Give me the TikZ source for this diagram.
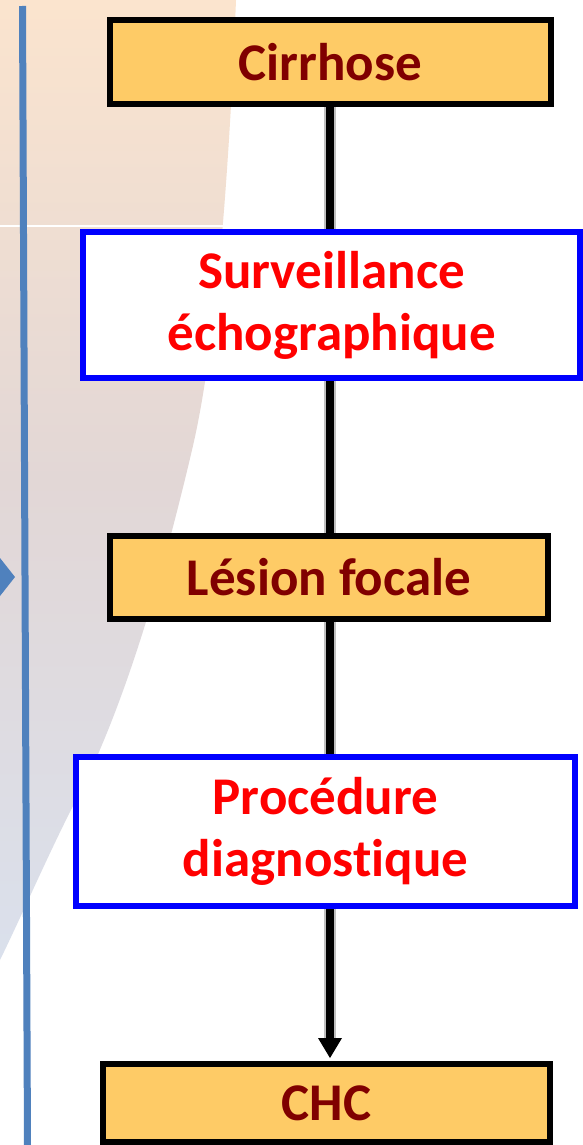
\documentclass[tikz,border=0pt]{standalone}
\usepackage{fontspec}
\setmainfont[Ligatures={NoCommon}]{Carlito}
\usetikzlibrary{arrows.meta}
\pgfdeclarelayer{bg}
\pgfdeclarelayer{lines}
\pgfsetlayers{bg,lines,main}
\definecolor{boxorange}{RGB}{254,203,102}
\definecolor{darkred}{RGB}{128,0,0}
\definecolor{pureblue}{RGB}{0,0,255}
\definecolor{purered}{RGB}{255,0,0}
\definecolor{officeblue}{RGB}{79,129,189}
\definecolor{bgtop}{RGB}{251,228,206}
\definecolor{bgmid}{RGB}{226,215,214}
\definecolor{bgbot}{RGB}{218,224,236}
\begin{document}
\begin{tikzpicture}[x=1pt,y=-1pt,
  orangebox/.style={draw=black,line width=6pt,fill=boxorange,text=darkred,
    font=\fontsize{53}{62}\selectfont\bfseries,inner sep=0pt,align=center},
  bluebox/.style={draw=pureblue,line width=6pt,fill=white,text=purered,
    font=\fontsize{53}{62}\selectfont\bfseries,inner sep=0pt,align=center},
  conn/.style={line width=8pt,draw=black},
  connshadow/.style={line width=12pt,draw=black,opacity=0.25}]
\useasboundingbox (0,0) rectangle (583,1145);

% boxes
\node[orangebox,minimum width=441pt,minimum height=84pt] (cir) at (330.5,62) {Cirrhose};
\node[bluebox,minimum width=497pt,minimum height=146pt] (sur) at (331.5,305) {Surveillance\\échographique};
\node[orangebox,minimum width=438pt,minimum height=83pt] (les) at (329,577.5) {Lésion focale};
\node[bluebox,minimum width=499pt,minimum height=149pt] (pro) at (325.5,831.5) {Procédure\\diagnostique};
\node[orangebox,minimum width=447pt,minimum height=78pt] (chc) at (326.5,1103) {CHC};

\coordinate (ax) at (330,0);

\begin{pgfonlayer}{bg}
  \fill[white] (0,0) rectangle (583,1145);
  \shade[top color=bgtop, bottom color=bgbot, middle color=bgmid]
    (0,0) -- (236,0) .. controls (230,150) and (218,340) .. (192,450)
    .. controls (165,565) and (125,710) .. (72,808)
    .. controls (48,855) and (22,915) .. (0,960) -- cycle;
  \draw[white,line width=2pt] (0,226) -- (226,226);
  \draw[officeblue,line width=7pt] (22.5,6) -- (27.5,1145);
  \fill[officeblue] (0,558) -- (15,577) -- (0,596) -- cycle;
\end{pgfonlayer}

\begin{pgfonlayer}{lines}
  \draw[connshadow] (cir.south -| ax) -- (sur.north -| ax);
  \draw[conn] (cir.south -| ax) -- (sur.north -| ax);
  \draw[connshadow] (sur.south -| ax) -- (les.north -| ax);
  \draw[conn] (sur.south -| ax) -- (les.north -| ax);
  \draw[connshadow] (les.south -| ax) -- (pro.north -| ax);
  \draw[conn] (les.south -| ax) -- (pro.north -| ax);
  \draw[connshadow,shorten >=22pt] (pro.south -| ax) -- (chc.north -| ax);
  \draw[conn,shorten >=3pt,-{Triangle[width=24pt,length=20pt,line width=0pt]}] (pro.south -| ax) -- (chc.north -| ax);
\end{pgfonlayer}
\end{tikzpicture}
\end{document}
